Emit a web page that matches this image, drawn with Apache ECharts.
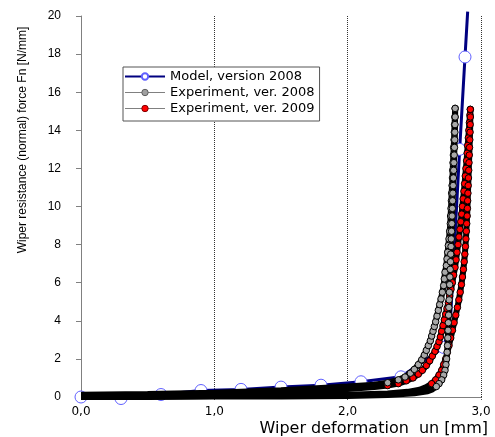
<!DOCTYPE html>
<html>
<head>
<meta charset="utf-8">
<script src="https://cdn.jsdelivr.net/npm/echarts@6/dist/echarts.min.js"></script>
<style>html,body{margin:0;padding:0;background:#fff}#c{width:495px;height:437px}</style>
</head>
<body>
<div id="c"></div>
<script>
// ---- data ----
const xTicks = [0, 1, 2, 3];
const yTicks = [0, 2, 4, 6, 8, 10, 12, 14, 16, 18, 20];
const seriesNames = ['Model, version 2008', 'Experiment, ver. 2008', 'Experiment, ver. 2009'];
const yTitle = 'Wiper resistance (normal) force Fn [N/mm]';
const xTitle = 'Wiper deformation  un [mm]';

const model2008 = [[0,0],[0.3,-0.08],[0.6,0.13],[0.9,0.34],[1.2,0.4],[1.5,0.52],[1.8,0.62],[2.1,0.8],[2.4,1.06],[2.72,2.6],[2.77,3.9],[2.84,13.0],[2.88,17.85],[2.9,20.23]];

const exp2008Load = [[0,0.12],[0.5,0.16],[1.0,0.22],[1.5,0.35],[2.0,0.55],[2.2,0.65],[2.3,0.75],[2.38,0.9],[2.43,1.05],[2.47,1.25],[2.5,1.45],[2.53,1.7],[2.555,1.95],[2.575,2.2],[2.59,2.45],[2.605,2.7],[2.62,2.95],[2.63,3.2],[2.64,3.45],[2.65,3.7],[2.66,3.95],[2.67,4.25],[2.68,4.55],[2.69,4.85],[2.70,5.15],[2.71,5.5],[2.72,5.85],[2.725,6.2],[2.73,6.55],[2.74,6.9],[2.745,7.25],[2.75,7.6],[2.755,7.95],[2.76,8.3],[2.765,8.7],[2.77,9.1],[2.772,9.5],[2.775,9.9],[2.778,10.3],[2.78,10.7],[2.783,11.1],[2.786,11.5],[2.788,11.9],[2.79,12.3],[2.793,12.7],[2.795,13.1],[2.798,13.5],[2.8,13.9],[2.802,14.3],[2.804,14.7],[2.806,15.15]];

const exp2008Unload = [[2.806,15.15],[2.806,14.7],[2.805,14.3],[2.804,13.9],[2.803,13.5],[2.801,13.1],[2.799,12.7],[2.797,12.3],[2.795,11.9],[2.793,11.5],[2.791,11.1],[2.789,10.7],[2.787,10.3],[2.785,9.9],[2.783,9.5],[2.781,9.1],[2.779,8.7],[2.777,8.3],[2.775,7.9],[2.773,7.5],[2.771,7.1],[2.769,6.7],[2.767,6.3],[2.765,5.9],[2.763,5.5],[2.761,5.1],[2.759,4.7],[2.757,4.3],[2.755,3.9],[2.753,3.5],[2.751,3.1],[2.749,2.7],[2.746,2.35],[2.742,2.0],[2.737,1.7],[2.73,1.4],[2.72,1.15],[2.705,0.9],[2.685,0.7],[2.665,0.55],[2.635,0.4],[2.6,0.3],[2.5,0.2],[2.3,0.1],[2.0,0.05],[1.5,0.03],[1.0,0.02],[0.5,0.0],[0,0]];

const exp2009Load = [[0,0.08],[0.5,0.12],[1.0,0.18],[1.5,0.28],[2.0,0.42],[2.2,0.52],[2.3,0.6],[2.38,0.7],[2.44,0.85],[2.49,1.0],[2.53,1.2],[2.56,1.4],[2.59,1.65],[2.615,1.9],[2.635,2.15],[2.655,2.4],[2.67,2.65],[2.685,2.9],[2.695,3.15],[2.705,3.45],[2.715,3.75],[2.725,4.05],[2.735,4.35],[2.745,4.65],[2.755,4.95],[2.765,5.3],[2.775,5.65],[2.785,6.0],[2.795,6.4],[2.805,6.8],[2.813,7.2],[2.82,7.6],[2.828,8.0],[2.835,8.4],[2.842,8.8],[2.848,9.2],[2.855,9.6],[2.86,10.0],[2.866,10.4],[2.872,10.8],[2.877,11.2],[2.882,11.6],[2.887,12.0],[2.892,12.4],[2.896,12.8],[2.9,13.2],[2.905,13.6],[2.909,14.0],[2.913,14.4],[2.917,14.8],[2.92,15.1]];

const exp2009Unload = [[2.92,15.1],[2.92,14.7],[2.919,14.3],[2.918,13.9],[2.916,13.5],[2.914,13.1],[2.912,12.7],[2.91,12.3],[2.908,11.9],[2.906,11.5],[2.904,11.1],[2.902,10.7],[2.9,10.3],[2.898,9.9],[2.896,9.5],[2.893,9.1],[2.89,8.7],[2.887,8.3],[2.883,7.9],[2.879,7.5],[2.874,7.1],[2.868,6.7],[2.861,6.3],[2.853,5.9],[2.844,5.5],[2.834,5.1],[2.823,4.7],[2.811,4.3],[2.798,3.9],[2.786,3.5],[2.773,3.1],[2.76,2.7],[2.748,2.35],[2.735,2.0],[2.72,1.7],[2.705,1.4],[2.685,1.15],[2.66,0.9],[2.63,0.7],[2.59,0.52],[2.54,0.38],[2.45,0.27],[2.3,0.18],[2.0,0.12],[1.5,0.08],[1.0,0.05],[0.5,0.03],[0,0.02]];

// ---- chart ----
const chart = echarts.init(document.getElementById('c'), null, {renderer: 'canvas'});
const SANS = '"Liberation Sans", Arial, sans-serif';
const WIDE = '"DejaVu Sans", sans-serif';

function markerData(arr) {
  return arr.map(p => (p[1] >= 0.55 && p[0] >= 2.25 ? {value: p} : {value: p, symbol: 'none'}));
}
function bandSeries(id, arr) {
  return {
    id: id, name: id, type: 'line', data: arr, showSymbol: false, symbol: 'none',
    lineStyle: {color: '#000', width: 6}, z: 3, silent: true, animation: false
  };
}
function markSeries(name, arr, fill, z) {
  return {
    name: name, type: 'line', data: markerData(arr), symbol: 'circle', symbolSize: 6.5,
    showSymbol: true, showAllSymbol: true,
    itemStyle: {color: fill, borderColor: '#000', borderWidth: 1},
    lineStyle: {color: '#000', width: 1}, z: z, animation: false
  };
}

const option = {
  animation: false,
  grid: {left: 81, right: 14, top: 16, bottom: 40, containLabel: false},
  xAxis: {
    type: 'value', min: xTicks[0], max: xTicks[xTicks.length - 1], interval: 1,
    axisLine: {show: true, lineStyle: {color: '#808080', width: 1}},
    axisTick: {show: true, length: 4, lineStyle: {color: '#555', type: 'dotted'}},
    axisLabel: {color: '#000', fontFamily: WIDE, fontSize: 12, margin: 9,
      formatter: v => v.toFixed(1).replace('.', ',')},
    splitLine: {show: true, lineStyle: {color: '#333', type: 'dotted', width: 1}}
  },
  yAxis: {
    type: 'value', min: yTicks[0], max: yTicks[yTicks.length - 1], interval: 2,
    axisLine: {show: true, lineStyle: {color: '#808080', width: 1}},
    axisTick: {show: true, length: 5, inside: false, lineStyle: {color: '#808080'}},
    axisLabel: {color: '#000', fontFamily: SANS, fontSize: 12, margin: 20},
    splitLine: {show: false}
  },
  legend: {
    orient: 'vertical', left: 123, top: 67,
    padding: [3, 5, 6, 1], itemGap: 3, itemWidth: 40, itemHeight: 8,
    backgroundColor: '#fff', borderColor: '#555', borderWidth: 1,
    textStyle: {fontFamily: WIDE, fontSize: 13, color: '#000'},
    data: [
      {name: seriesNames[0]},
      {name: seriesNames[1], lineStyle: {color: '#808080', width: 1}, itemStyle: {color: '#a0a0a0', borderColor: '#606060', borderWidth: 1}},
      {name: seriesNames[2], lineStyle: {color: '#808080', width: 1}, itemStyle: {color: '#ff0000', borderColor: '#800000', borderWidth: 1}}
    ]
  },
  graphic: [
    {type: 'text', x: 23, y: 140, rotation: Math.PI / 2,
      style: {text: yTitle, fill: '#000', font: '12px ' + SANS, textAlign: 'center', textVerticalAlign: 'middle'}},
    {type: 'text', x: 488, y: 429,
      style: {text: xTitle, fill: '#000', font: '16px ' + WIDE, textAlign: 'right', textVerticalAlign: 'middle'}}
  ],
  series: [
    {
      name: seriesNames[0], type: 'line', clip: false,
      data: model2008.map(p => (p[1] > 20 ? {value: p, symbol: 'none'} : {value: p})),
      symbol: 'circle', symbolSize: 12, showAllSymbol: true,
      itemStyle: {color: '#fff', borderColor: '#6060ff', borderWidth: 1},
      lineStyle: {color: '#000080', width: 3}, z: 2
    },
    bandSeries('band2008a', exp2008Load),
    bandSeries('band2008b', exp2008Unload),
    bandSeries('band2009a', exp2009Load),
    bandSeries('band2009b', exp2009Unload),
    markSeries(seriesNames[2], exp2009Load, '#ff0000', 4),
    markSeries(seriesNames[2], exp2009Unload, '#ff0000', 4),
    markSeries(seriesNames[1], exp2008Load, '#a8a8a8', 5),
    markSeries(seriesNames[1], exp2008Unload, '#a8a8a8', 5)
  ]
};
chart.setOption(option);
</script>
</body>
</html>
